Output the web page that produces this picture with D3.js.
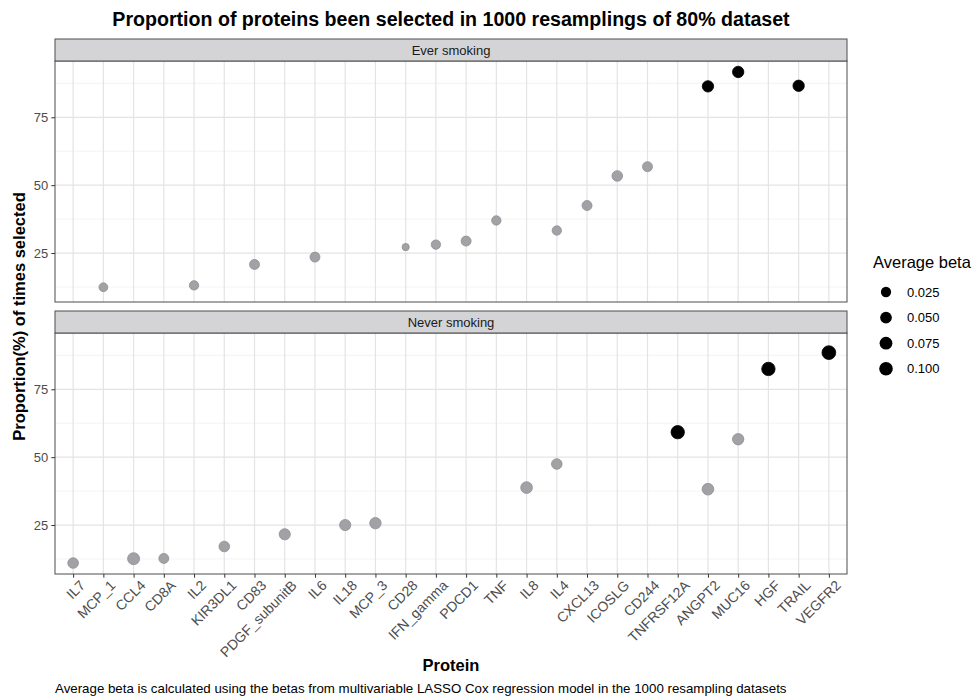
<!DOCTYPE html>
<html>
<head>
<meta charset="utf-8">
<script src="https://cdn.jsdelivr.net/npm/d3@7"></script>
<style>
    body { margin: 0; background: #fff; }
    svg { display: block; font-family: "Liberation Sans", Arial, Helvetica, sans-serif; }
</style>
</head>
<body>
<div id="chart"></div>
<script>
// Protein order on the x axis
const proteins = ['IL7', 'MCP_1', 'CCL4', 'CD8A', 'IL2', 'KIR3DL1', 'CD83', 'PDGF_subunitB', 'IL6', 'IL18',
    'MCP_3', 'CD28', 'IFN_gamma', 'PDCD1', 'TNF', 'IL8', 'IL4', 'CXCL13', 'ICOSLG', 'CD244',
    'TNFRSF12A', 'ANGPT2', 'MUC16', 'HGF', 'TRAIL', 'VEGFR2'];

// Ever smoking panel
const everProteins = ['MCP_1', 'IL2', 'CD83', 'IL6', 'CD28', 'IFN_gamma', 'PDCD1', 'TNF', 'IL4', 'CXCL13',
    'ICOSLG', 'CD244', 'ANGPT2', 'MUC16', 'TRAIL'];
const everProportion = [12.4, 13.1, 20.8, 23.5, 27.2, 28.1, 29.4, 37.0, 33.3, 42.5, 53.4, 56.8, 86.4, 91.7, 86.6];
const everBeta = [0.009, 0.014, 0.021, 0.021, 0.003, 0.014, 0.021, 0.014, 0.014, 0.021, 0.030, 0.021, 0.044, 0.044, 0.044];
const everTop = ['ANGPT2', 'MUC16', 'TRAIL'];

// Never smoking panel
const neverProteins = ['IL7', 'CCL4', 'CD8A', 'KIR3DL1', 'PDGF_subunitB', 'IL18', 'MCP_3', 'IL8', 'IL4',
    'TNFRSF12A', 'ANGPT2', 'MUC16', 'HGF', 'VEGFR2'];
const neverProportion = [11.0, 12.6, 12.7, 17.1, 21.6, 25.0, 25.7, 38.8, 47.5, 59.2, 38.2, 56.6, 82.5, 88.5];
const neverBeta = [0.030, 0.057, 0.021, 0.030, 0.040, 0.040, 0.044, 0.050, 0.030, 0.092, 0.050, 0.044, 0.092, 0.105];
const neverTop = ['TNFRSF12A', 'HGF', 'VEGFR2'];

const yTicks = [25, 50, 75];
const legendBreaks = [0.025, 0.050, 0.075, 0.100];

const panels = [
    { label: 'Ever smoking', names: everProteins, values: everProportion, betas: everBeta, top: everTop },
    { label: 'Never smoking', names: neverProteins, values: neverProportion, betas: neverBeta, top: neverTop }
];

const width = 974, height = 700;
const left = 55, right = 847;
const stripH = 22;
const panelTops = [39, 311];   // strip top of each panel
const plotH = 241;
const tickFont = '13px';
const titleFont = '16.5px';
const fontFamily = '"Liberation Sans", Arial, Helvetica, sans-serif';

const svg = d3.select('#chart').append('svg')
    .attr('width', width)
    .attr('height', height);

// Scales shared by both facets
const x = d3.scalePoint().domain(proteins).range([left, right]).padding(0.6);

const allValues = everProportion.concat(neverProportion);
const [vMin, vMax] = d3.extent(allValues);
const pad = (vMax - vMin) * 0.05;

const allBetas = everBeta.concat(neverBeta);
const [bMin, bMax] = d3.extent(allBetas);
const sizeLin = d3.scaleLinear([0, 1], [3.6, 6.9]);
const radius = b => sizeLin(Math.sqrt(Math.max(0, (b - bMin) / (bMax - bMin))));

// Title
svg.append('text')
    .attr('x', (left + right) / 2)
    .attr('y', 26)
    .attr('text-anchor', 'middle')
    .style('font-size', '19.6px')
    .style('font-weight', 'bold')
    .text('Proportion of proteins been selected in 1000 resamplings of 80% dataset');

panels.forEach((p, i) => {
    const stripTop = panelTops[i];
    const plotTop = stripTop + stripH;
    const plotBottom = plotTop + plotH;
    const y = d3.scaleLinear([vMin - pad, vMax + pad], [plotBottom, plotTop]);
    const g = svg.append('g');

    // Background grid
    const minor = [12.5, 37.5, 62.5, 87.5];
    g.selectAll('line.minor').data(minor).join('line')
        .attr('x1', left).attr('x2', right)
        .attr('y1', d => y(d)).attr('y2', d => y(d))
        .attr('stroke', '#f0f0f0').attr('stroke-width', 0.8);
    g.selectAll('line.majorY').data(yTicks).join('line')
        .attr('x1', left).attr('x2', right)
        .attr('y1', d => y(d)).attr('y2', d => y(d))
        .attr('stroke', '#e4e4e4').attr('stroke-width', 1.2);
    g.selectAll('line.majorX').data(proteins).join('line')
        .attr('x1', d => x(d)).attr('x2', d => x(d))
        .attr('y1', plotTop).attr('y2', plotBottom)
        .attr('stroke', '#e4e4e4').attr('stroke-width', 1.2);

    // Points
    const pts = p.names.map((n, k) => ({ name: n, value: p.values[k], beta: p.betas[k], top: p.top.includes(n) }));
    g.selectAll('circle').data(pts).join('circle')
        .attr('cx', d => x(d.name))
        .attr('cy', d => y(d.value))
        .attr('r', d => radius(d.beta))
        .attr('fill', d => d.top ? '#000' : '#a2a2a6')
        .attr('stroke', d => d.top ? '#000' : '#8e8e92')
        .attr('stroke-width', 0.8);

    // Panel border
    g.append('rect')
        .attr('x', left).attr('y', plotTop)
        .attr('width', right - left).attr('height', plotH)
        .attr('fill', 'none').attr('stroke', '#4d4d4d').attr('stroke-width', 1);

    // Strip
    g.append('rect')
        .attr('x', left).attr('y', stripTop)
        .attr('width', right - left).attr('height', stripH)
        .attr('fill', '#d4d4d6').attr('stroke', '#4d4d4d').attr('stroke-width', 1);
    g.append('text')
        .attr('x', (left + right) / 2)
        .attr('y', stripTop + stripH / 2 + 4.5)
        .attr('text-anchor', 'middle')
        .style('font-size', tickFont)
        .attr('fill', '#1a1a1a')
        .text(p.label);

    // Y axis
    const axisY = g.append('g')
        .attr('transform', `translate(${left},0)`)
        .call(d3.axisLeft(y).tickValues(yTicks).tickSize(3.7).tickPadding(3))
        .attr('font-size', tickFont)
        .attr('font-family', fontFamily);
    axisY.select('.domain').remove();
    axisY.selectAll('.tick line').attr('stroke', '#333');
    axisY.selectAll('.tick text').attr('fill', '#4d4d4d');

    // X axis only on the bottom facet
    if (i === panels.length - 1) {
        const axisX = g.append('g')
            .attr('transform', `translate(0,${plotBottom})`)
            .call(d3.axisBottom(x).tickSize(3.7).tickPadding(2))
            .attr('font-size', '14px')
            .attr('font-family', fontFamily);
        axisX.select('.domain').remove();
        axisX.selectAll('.tick line').attr('stroke', '#333');
        axisX.selectAll('.tick text')
            .attr('fill', '#4d4d4d')
            .attr('text-anchor', 'end')
            .attr('dy', null)
            .attr('dominant-baseline', 'hanging')
            .attr('transform', 'translate(5,5) rotate(-45)')
            .attr('y', 0);
    }
});

// Axis titles
svg.append('text')
    .attr('x', (left + right) / 2)
    .attr('y', 671)
    .attr('text-anchor', 'middle')
    .style('font-size', titleFont)
    .style('font-weight', 'bold')
    .text('Protein');

svg.append('text')
    .attr('transform', `translate(25,${(panelTops[0] + panelTops[1] + stripH + plotH) / 2 + 10}) rotate(-90)`)
    .attr('text-anchor', 'middle')
    .style('font-size', titleFont)
    .style('font-weight', 'bold')
    .text('Proportion(%) of times selected');

// Caption
svg.append('text')
    .attr('x', left)
    .attr('y', 693)
    .style('font-size', '13.3px')
    .attr('fill', '#000')
    .text('Average beta is calculated using the betas from multivariable LASSO Cox regression model in the 1000 resampling datasets');

// Size legend
const legend = svg.append('g').attr('transform', 'translate(873,0)');
legend.append('text')
    .attr('x', 0).attr('y', 268)
    .style('font-size', titleFont)
    .text('Average beta');
legend.selectAll('circle').data(legendBreaks).join('circle')
    .attr('cx', 13)
    .attr('cy', (d, k) => 292 + k * 25.6)
    .attr('r', d => radius(d))
    .attr('fill', '#000');
legend.selectAll('text.lab').data(legendBreaks).join('text')
    .attr('class', 'lab')
    .attr('x', 34)
    .attr('y', (d, k) => 292 + k * 25.6 + 4.5)
    .style('font-size', tickFont)
    .text(d => d3.format('.3f')(d));
</script>
</body>
</html>
